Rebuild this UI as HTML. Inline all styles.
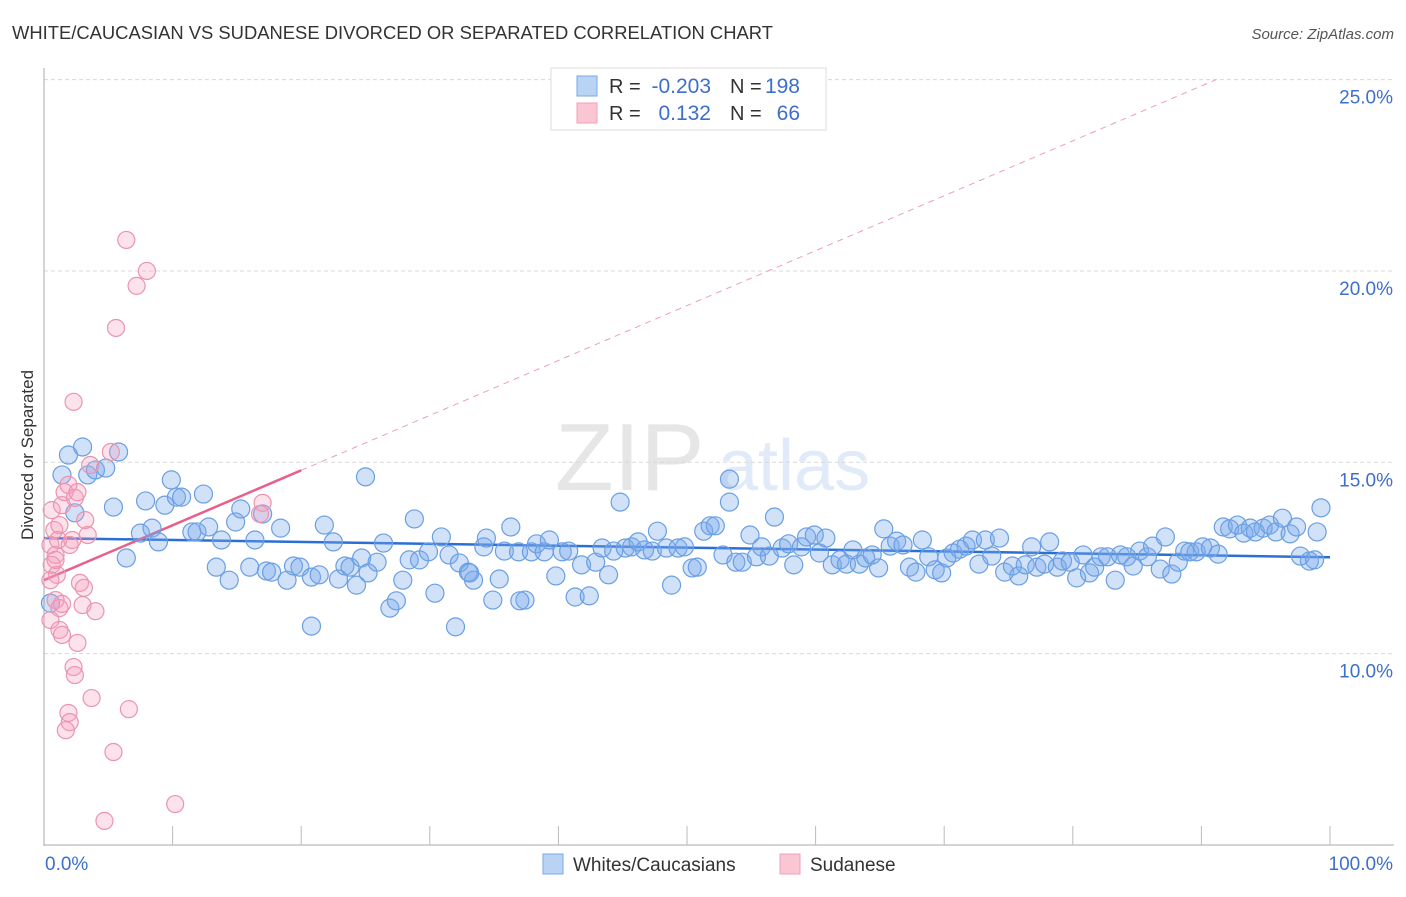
<!DOCTYPE html>
<html><head><meta charset="utf-8"><style>
body{margin:0;background:#fff;font-family:"Liberation Sans",sans-serif;}
svg text{font-family:"Liberation Sans",sans-serif;}
</style></head><body>
<svg id="chart" width="1406" height="892" xmlns="http://www.w3.org/2000/svg">
<text x="12" y="39" font-size="18.4" fill="#333">WHITE/CAUCASIAN VS SUDANESE DIVORCED OR SEPARATED CORRELATION CHART</text>
<text x="1394" y="39" font-size="15" fill="#555" text-anchor="end" font-style="italic">Source: ZipAtlas.com</text>
<g opacity="0.18">
<text x="555" y="490" font-size="96" fill="#777" font-family="Liberation Serif,serif">ZIP</text>
<text x="718" y="490" font-size="72" fill="#5b8fd9">atlas</text>
</g>
<g id="grid"></g>
<g id="axes"></g>
<g id="trends"></g>
<g id="pts"></g>
<text transform="translate(33,455) rotate(-90)" font-size="17" fill="#333" text-anchor="middle">Divorced or Separated</text>
<g>
<rect x="551" y="68" width="275" height="62" fill="#fff" stroke="#ddd"/>
<rect x="577" y="76" width="20" height="20" fill="#b9d3f5" stroke="#7aa8e6"/>
<rect x="577" y="103" width="20" height="20" fill="#fac6d4" stroke="#f0a0b8"/>
<text x="609" y="93" font-size="20" fill="#333">R =</text>
<text x="711" y="93" font-size="21" fill="#3d6fcc" text-anchor="end">-0.203</text>
<text x="730" y="93" font-size="20" fill="#333">N =</text>
<text x="800" y="93" font-size="21" fill="#3d6fcc" text-anchor="end">198</text>
<text x="609" y="120" font-size="20" fill="#333">R =</text>
<text x="711" y="120" font-size="21" fill="#3d6fcc" text-anchor="end">0.132</text>
<text x="730" y="120" font-size="20" fill="#333">N =</text>
<text x="800" y="120" font-size="21" fill="#3d6fcc" text-anchor="end">66</text>
</g>
<g>
<rect x="543" y="854" width="20" height="20" fill="#b9d3f5" stroke="#7aa8e6"/>
<text x="573" y="871" font-size="19" fill="#333">Whites/Caucasians</text>
<rect x="780" y="854" width="20" height="20" fill="#fac6d4" stroke="#f0a0b8"/>
<text x="810" y="871" font-size="19" fill="#333">Sudanese</text>
</g>
</svg>
<script>
const yTicks=[10,15,20,25];
const yTickLabels=["10.0%","15.0%","20.0%","25.0%"];
const xEndLabels=["0.0%","100.0%"];
const blueX=[0.5,1.4,1.9,2.4,3.0,3.4,4.0,4.8,5.4,5.8,6.4,7.5,7.9,8.4,8.9,9.4,9.9,10.3,10.7,11.5,11.9,12.4,12.8,13.4,13.8,14.4,14.9,15.3,16.0,16.4,17.0,17.3,17.7,18.4,18.9,19.4,19.9,20.8,20.8,21.4,21.8,22.5,22.9,23.4,23.8,24.3,24.7,25.2,25.9,26.4,26.9,27.4,27.9,28.4,28.8,29.2,29.9,30.4,30.9,31.5,32.0,32.3,33.0,33.4,34.2,34.4,34.9,35.4,35.8,36.3,36.9,37.4,37.9,38.3,38.9,39.3,39.8,40.3,40.8,41.3,41.8,42.4,42.9,43.4,43.9,44.3,44.8,45.2,45.7,46.2,46.7,47.3,47.7,48.4,48.8,49.3,49.8,50.4,50.8,51.3,51.8,52.2,52.8,53.3,53.8,54.3,54.9,55.4,55.8,56.4,56.8,57.4,57.9,58.3,58.9,59.3,59.9,60.3,60.8,61.3,61.9,62.4,62.9,63.4,63.9,64.4,64.9,65.3,65.8,66.3,66.8,67.3,67.8,68.3,68.8,69.3,69.8,70.2,70.7,71.2,71.7,72.2,72.7,73.2,73.7,74.3,74.7,75.3,75.8,76.3,76.8,77.2,77.8,78.2,78.8,79.2,79.8,80.3,80.8,81.3,81.7,82.2,82.7,83.3,83.7,84.2,84.7,85.2,85.8,86.2,86.8,87.2,87.7,88.2,88.7,89.1,89.6,90.1,90.7,91.3,91.7,92.2,92.8,93.3,93.8,94.2,94.8,95.3,95.8,96.3,96.9,97.4,97.7,98.4,98.8,99.3,99.0,25.0,53.3,37.0,33.1];
const blueY=[11.32,14.67,15.19,13.68,15.40,14.67,14.80,14.85,13.83,15.27,12.50,13.15,13.99,13.28,12.92,13.88,14.54,14.09,14.09,13.18,13.18,14.17,13.31,12.26,12.97,11.92,13.44,13.78,12.26,12.97,13.65,12.16,12.13,13.28,11.92,12.29,12.26,10.72,12.00,12.06,13.36,12.92,11.95,12.29,12.26,11.79,12.50,12.11,12.39,12.89,11.19,11.38,11.92,12.45,13.52,12.45,12.66,11.58,13.05,12.58,10.70,12.37,12.13,11.92,12.79,13.02,11.40,11.95,12.68,13.31,12.66,11.40,12.66,12.87,12.66,12.97,12.03,12.66,12.68,11.48,12.32,11.51,12.39,12.76,12.06,12.68,13.96,12.76,12.79,12.92,12.71,12.68,13.20,12.76,11.79,12.76,12.79,12.24,12.26,13.20,13.34,13.34,12.58,13.96,12.39,12.39,13.10,12.53,12.79,12.55,13.57,12.76,12.87,12.32,12.79,13.05,13.10,12.63,13.02,12.32,12.45,12.34,12.71,12.34,12.50,12.58,12.24,13.26,12.81,12.94,12.84,12.26,12.13,12.97,12.53,12.19,12.11,12.50,12.63,12.73,12.81,12.97,12.34,12.97,12.55,13.02,12.13,12.29,12.03,12.32,12.79,12.26,12.34,12.92,12.26,12.42,12.39,11.98,12.58,12.11,12.26,12.53,12.53,11.92,12.58,12.53,12.29,12.68,12.53,12.81,12.21,13.05,12.08,12.39,12.68,12.66,12.66,12.79,12.76,12.60,13.31,13.26,13.36,13.15,13.28,13.18,13.28,13.36,13.18,13.54,13.13,13.31,12.55,12.42,12.45,13.81,13.18,14.62,14.56,11.38,12.11];
const pinkX=[0.6,0.8,0.5,0.9,0.6,1.0,0.5,0.9,1.1,1.2,1.4,1.6,1.9,2.0,2.2,2.4,2.6,3.2,3.4,3.6,0.9,1.2,1.4,2.8,3.1,3.0,4.0,1.2,1.4,2.6,2.3,2.3,2.4,3.7,1.9,2.0,1.7,6.6,5.4,4.7,10.2,6.4,8.0,7.2,5.6,5.2,17.0,16.8,0.5];
const pinkY=[13.75,13.23,12.84,12.58,12.32,12.06,11.92,12.45,12.97,13.36,13.88,14.22,14.41,12.84,12.97,14.07,14.22,13.49,13.10,14.93,11.40,11.19,11.30,11.85,11.72,11.27,11.11,10.62,10.49,10.28,16.58,9.65,9.44,8.84,8.45,8.21,8.00,8.55,7.43,5.63,6.07,20.81,20.00,19.61,18.51,15.27,13.94,13.65,10.88];
const blueTrend=[13.02,12.52];
const pinkTrend=[11.92,14.79,20];
const NS="http://www.w3.org/2000/svg";
const X=v=>44+v*12.86, Y=v=>845-(v-5)*38.27;
function mk(tag,attrs,parent){const e=document.createElementNS(NS,tag);for(const k in attrs)e.setAttribute(k,attrs[k]);parent.appendChild(e);return e;}
const grid=document.getElementById('grid'),axes=document.getElementById('axes'),trends=document.getElementById('trends'),pts=document.getElementById('pts');
yTicks.forEach((t,i)=>{
  const l=mk('line',{x1:44,x2:1394,y1:Y(t),y2:Y(t),stroke:'#d8d8d8','stroke-dasharray':'4,3'},grid);
  
  
  const tx=mk('text',{x:1393,y:Y(t)+24,'font-size':19,fill:'#3d6fcc','text-anchor':'end'},axes);
  tx.textContent=yTickLabels[i];
  
  
});
const ya=mk('line',{x1:44,x2:44,y1:68,y2:846,stroke:'#aaa'},axes);


const xa=mk('line',{x1:44,x2:1394,y1:845,y2:845,stroke:'#aaa'},axes);


for(let k=1;k<=10;k++){
  const tk=mk('line',{x1:X(k*10),x2:X(k*10),y1:826,y2:845,stroke:'#bbb'},axes);
  
  
}
const xl0=mk('text',{x:45,y:870,'font-size':19,fill:'#3d6fcc'},axes);xl0.textContent=xEndLabels[0];


const xl1=mk('text',{x:1393,y:870,'font-size':19,fill:'#3d6fcc','text-anchor':'end'},axes);xl1.textContent=xEndLabels[1];


blueX.forEach((v,i)=>{
  const c=mk('circle',{cx:X(v),cy:Y(blueY[i]),r:9,fill:'rgba(120,170,235,0.35)',stroke:'#6a9fe3','stroke-width':1.2},pts);
  
  
});
pinkX.forEach((v,i)=>{
  const c=mk('circle',{cx:X(v),cy:Y(pinkY[i]),r:8.5,fill:'rgba(245,160,190,0.3)',stroke:'#eb94b0','stroke-width':1.2},pts);
  
  
});
const slope=(pinkTrend[1]-pinkTrend[0])/pinkTrend[2];
const xEnd=(25-pinkTrend[0])/slope;
const pd=mk('line',{x1:X(pinkTrend[2]),y1:Y(pinkTrend[1]),x2:X(xEnd),y2:Y(25),stroke:'#eaa0b8','stroke-width':1,'stroke-dasharray':'6,5'},trends);


const bt=mk('line',{x1:X(0),y1:Y(blueTrend[0]),x2:X(100),y2:Y(blueTrend[1]),stroke:'#2b6fd6','stroke-width':2.5},trends);


const pt=mk('line',{x1:X(0),y1:Y(pinkTrend[0]),x2:X(pinkTrend[2]),y2:Y(pinkTrend[1]),stroke:'#e8608a','stroke-width':2.5},trends);


</script>
</body></html>
